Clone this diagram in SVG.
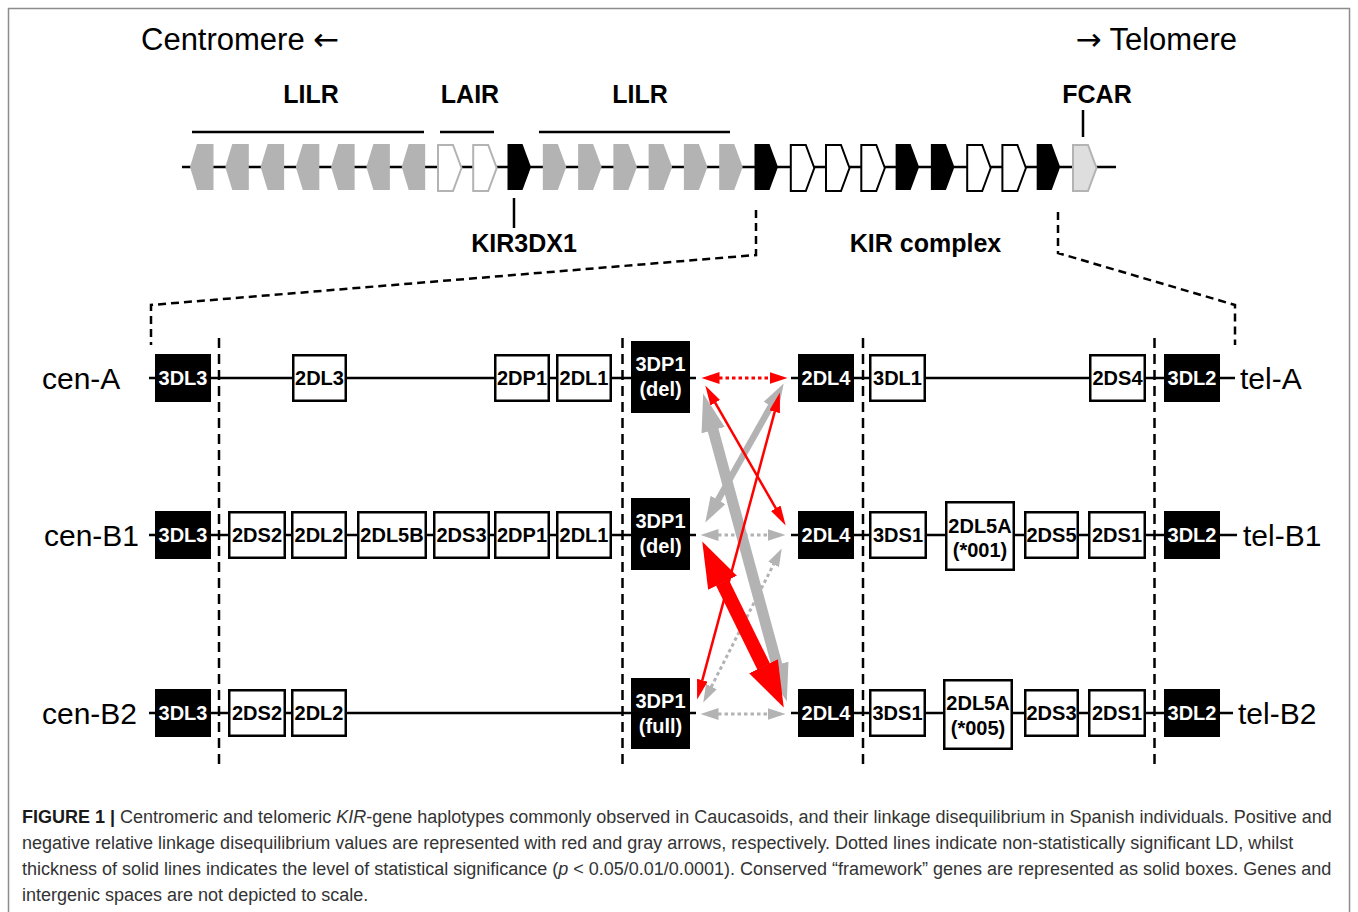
<svg xmlns="http://www.w3.org/2000/svg" xmlns:xlink="http://www.w3.org/1999/xlink" width="1358" height="912" viewBox="0 0 1358 912">
<style>
.gk{fill:#000}
.gg{fill:#b3b3b3}
.gw{fill:#fff;stroke:#000;stroke-width:2}
.gwl{fill:#fff;stroke:#b3b3b3;stroke-width:2}
.gf{fill:#dedede;stroke:#b3b3b3;stroke-width:2}
.ln{stroke:#000;stroke-width:2.5;fill:none}
.dash{stroke:#000;stroke-width:2.5;stroke-dasharray:8 5;fill:none}
.sep{stroke:#000;stroke-width:2.5;stroke-dasharray:10 6;fill:none}
.bw{fill:#fff;stroke:#000;stroke-width:2.5}
.bk{fill:#000}
.tb{font-family:"Liberation Sans",Arial,sans-serif;font-weight:bold;font-size:20px;text-anchor:middle;fill:#000}
.tw{fill:#fff}
.lab{font-family:"Liberation Sans",Arial,sans-serif;font-size:30px;fill:#000}
.ttl{font-family:"Liberation Sans",Arial,sans-serif;font-size:31px;fill:#000}
.arw{font-family:"DejaVu Sans",sans-serif}
.top{font-family:"Liberation Sans",Arial,sans-serif;font-size:25px;font-weight:bold;text-anchor:middle;fill:#000}
.cap{font-family:"Liberation Sans",Arial,sans-serif;font-size:18px;fill:#333}
.red{stroke:#ff0000;fill:none}
.gry{stroke:#b3b3b3;fill:none}
.dot{stroke-width:3;stroke-dasharray:3.5 3}
</style>
<defs>
<polygon id="gL" points="0,23 7,0 23.5,0 23.5,46 7,46"/>
<polygon id="gR" points="0,0 15,0 23.5,23 15,46 0,46"/>
<marker id="mGT" markerUnits="userSpaceOnUse" markerWidth="39" markerHeight="24" refX="0.5" refY="12" orient="auto-start-reverse"><path d="M0,0 L38,12 L0,24 z" fill="#b3b3b3"/></marker>
<marker id="mGM" markerUnits="userSpaceOnUse" markerWidth="27" markerHeight="17" refX="0.5" refY="8.5" orient="auto-start-reverse"><path d="M0,0 L26,8.5 L0,17 z" fill="#b3b3b3"/></marker>
<marker id="mGD" markerUnits="userSpaceOnUse" markerWidth="19" markerHeight="12" refX="0.5" refY="6" orient="auto-start-reverse"><path d="M0,0 L18,6 L0,12 z" fill="#b3b3b3"/></marker>
<marker id="mRT" markerUnits="userSpaceOnUse" markerWidth="21" markerHeight="11" refX="0.5" refY="5.5" orient="auto-start-reverse"><path d="M0,0 L20,5.5 L0,11 z" fill="#ff0000"/></marker>
<marker id="mRK" markerUnits="userSpaceOnUse" markerWidth="47" markerHeight="32" refX="0.5" refY="16" orient="auto-start-reverse"><path d="M0,0 L46,16 L0,32 z" fill="#ff0000"/></marker>
<marker id="mRD" markerUnits="userSpaceOnUse" markerWidth="19" markerHeight="12" refX="0.5" refY="6" orient="auto-start-reverse"><path d="M0,0 L18,6 L0,12 z" fill="#ff0000"/></marker>
</defs>

<rect x="8.5" y="8.5" width="1341" height="1000" fill="#fff" stroke="#8c8c8c" stroke-width="1.5"/>

<g id="titles">
<text class="ttl" x="141" y="50">Centromere <tspan class="arw">←</tspan></text>
<text class="ttl" x="1237" y="50" text-anchor="end"><tspan class="arw">→</tspan> Telomere</text>
</g>

<g id="gene-track">
<line class="ln" x1="182" y1="167" x2="1116" y2="167" stroke-width="3"/>
<line class="ln" x1="192" y1="132" x2="424" y2="132"/>
<line class="ln" x1="440" y1="132" x2="494" y2="132"/>
<line class="ln" x1="539" y1="132" x2="730" y2="132"/>
<text class="top" x="311" y="103">LILR</text>
<text class="top" x="470" y="103">LAIR</text>
<text class="top" x="640" y="103">LILR</text>
<text class="top" x="1097" y="103">FCAR</text>
<line class="ln" x1="1083" y1="110" x2="1083" y2="137"/>
<line class="ln" x1="514" y1="198" x2="514" y2="228"/>
<text class="top" x="524" y="252">KIR3DX1</text>
<text class="top" x="925.5" y="252">KIR complex</text>
<use xlink:href="#gL" x="190" y="144" class="gg"/>
<use xlink:href="#gL" x="225.3" y="144" class="gg"/>
<use xlink:href="#gL" x="260.6" y="144" class="gg"/>
<use xlink:href="#gL" x="295.8" y="144" class="gg"/>
<use xlink:href="#gL" x="331.1" y="144" class="gg"/>
<use xlink:href="#gL" x="366.4" y="144" class="gg"/>
<use xlink:href="#gL" x="401.7" y="144" class="gg"/>
<use xlink:href="#gR" x="438" y="145" class="gwl"/>
<use xlink:href="#gR" x="473.2" y="145" class="gwl"/>
<use xlink:href="#gR" x="507.5" y="144" class="gk"/>
<use xlink:href="#gR" x="542.8" y="144" class="gg"/>
<use xlink:href="#gR" x="578.1" y="144" class="gg"/>
<use xlink:href="#gR" x="613.4" y="144" class="gg"/>
<use xlink:href="#gR" x="648.6" y="144" class="gg"/>
<use xlink:href="#gR" x="683.9" y="144" class="gg"/>
<use xlink:href="#gR" x="719.2" y="144" class="gg"/>
<use xlink:href="#gR" x="754.5" y="144" class="gk"/>
<use xlink:href="#gR" x="790.8" y="145" class="gw"/>
<use xlink:href="#gR" x="826" y="145" class="gw"/>
<use xlink:href="#gR" x="861.3" y="145" class="gw"/>
<use xlink:href="#gR" x="895.6" y="144" class="gk"/>
<use xlink:href="#gR" x="930.9" y="144" class="gk"/>
<use xlink:href="#gR" x="967.2" y="145" class="gw"/>
<use xlink:href="#gR" x="1002.4" y="145" class="gw"/>
<use xlink:href="#gR" x="1036.7" y="144" class="gk"/>
<use xlink:href="#gR" x="1073" y="145" class="gf"/>
</g>

<g id="zoom-guides">
<path class="dash" d="M756,210 V255 L151,305 V345"/>
<path class="dash" d="M1058,212 V253 L1235,305 V345"/>
<line class="sep" x1="219" y1="338" x2="219" y2="768"/>
<line class="sep" x1="622.5" y1="338" x2="622.5" y2="768"/>
<line class="sep" x1="863" y1="338" x2="863" y2="768"/>
<line class="sep" x1="1154.5" y1="338" x2="1154.5" y2="768"/>
</g>

<g id="row-lines">
<line class="ln" x1="149" y1="378" x2="696" y2="378"/>
<line class="ln" x1="791" y1="378" x2="1235" y2="378"/>
<line class="ln" x1="149" y1="535" x2="696" y2="535"/>
<line class="ln" x1="791" y1="535" x2="1237" y2="535"/>
<line class="ln" x1="149" y1="713" x2="696" y2="713"/>
<line class="ln" x1="791" y1="713" x2="1233" y2="713"/>
</g>

<g id="row-labels">
<text class="lab" x="42" y="389">cen-A</text>
<text class="lab" x="44" y="546">cen-B1</text>
<text class="lab" x="42" y="724">cen-B2</text>
<text class="lab" x="1240" y="389">tel-A</text>
<text class="lab" x="1243" y="546">tel-B1</text>
<text class="lab" x="1238" y="724">tel-B2</text>
</g>

<g id="row-A">
<g id="A-3DL3"><rect class="bk" x="155" y="354" width="56" height="48"/><text class="tb tw" x="183" y="385">3DL3</text></g>
<g id="A-2DL3"><rect class="bw" x="293.25" y="355.25" width="52.5" height="45.5"/><text class="tb" x="319.5" y="385">2DL3</text></g>
<g id="A-2DP1"><rect class="bw" x="495.25" y="355.25" width="53.5" height="45.5"/><text class="tb" x="522" y="385">2DP1</text></g>
<g id="A-2DL1"><rect class="bw" x="557.25" y="355.25" width="53.5" height="45.5"/><text class="tb" x="584" y="385">2DL1</text></g>
<g id="A-3DP1"><rect class="bk" x="631" y="341" width="59" height="72"/><text class="tb tw" x="660.5" y="371">3DP1</text><text class="tb tw" x="660.5" y="396">(del)</text></g>
<g id="A-2DL4"><rect class="bk" x="798" y="354" width="56" height="48"/><text class="tb tw" x="826" y="385">2DL4</text></g>
<g id="A-3DL1"><rect class="bw" x="870.25" y="355.25" width="54.5" height="45.5"/><text class="tb" x="897.5" y="385">3DL1</text></g>
<g id="A-2DS4"><rect class="bw" x="1090.25" y="355.25" width="54.5" height="45.5"/><text class="tb" x="1117.5" y="385">2DS4</text></g>
<g id="A-3DL2"><rect class="bk" x="1164" y="354" width="56" height="48"/><text class="tb tw" x="1192" y="385">3DL2</text></g>
</g>

<g id="row-B1">
<g id="B1-3DL3"><rect class="bk" x="155" y="511" width="56" height="48"/><text class="tb tw" x="183" y="542">3DL3</text></g>
<g id="B1-2DS2"><rect class="bw" x="229.25" y="512.25" width="55.5" height="45.5"/><text class="tb" x="257" y="542">2DS2</text></g>
<g id="B1-2DL2"><rect class="bw" x="292.25" y="512.25" width="53.5" height="45.5"/><text class="tb" x="319" y="542">2DL2</text></g>
<g id="B1-2DL5B"><rect class="bw" x="358.25" y="512.25" width="67.5" height="45.5"/><text class="tb" x="392" y="542">2DL5B</text></g>
<g id="B1-2DS3"><rect class="bw" x="434.25" y="512.25" width="54.5" height="45.5"/><text class="tb" x="461.5" y="542">2DS3</text></g>
<g id="B1-2DP1"><rect class="bw" x="495.25" y="512.25" width="53.5" height="45.5"/><text class="tb" x="522" y="542">2DP1</text></g>
<g id="B1-2DL1"><rect class="bw" x="557.25" y="512.25" width="53.5" height="45.5"/><text class="tb" x="584" y="542">2DL1</text></g>
<g id="B1-3DP1"><rect class="bk" x="631" y="498" width="59" height="72"/><text class="tb tw" x="660.5" y="528">3DP1</text><text class="tb tw" x="660.5" y="553">(del)</text></g>
<g id="B1-2DL4"><rect class="bk" x="798" y="511" width="56" height="48"/><text class="tb tw" x="826" y="542">2DL4</text></g>
<g id="B1-3DS1"><rect class="bw" x="870.25" y="512.25" width="55.5" height="45.5"/><text class="tb" x="898" y="542">3DS1</text></g>
<g id="B1-2DL5A"><rect class="bw" x="946.25" y="502.25" width="67.5" height="67.5"/><text class="tb" x="980" y="533">2DL5A</text><text class="tb" x="980" y="557">(*001)</text></g>
<g id="B1-2DS5"><rect class="bw" x="1025.25" y="512.25" width="52.5" height="45.5"/><text class="tb" x="1051.5" y="542">2DS5</text></g>
<g id="B1-2DS1"><rect class="bw" x="1089.25" y="512.25" width="55.5" height="45.5"/><text class="tb" x="1117" y="542">2DS1</text></g>
<g id="B1-3DL2"><rect class="bk" x="1164" y="511" width="56" height="48"/><text class="tb tw" x="1192" y="542">3DL2</text></g>
</g>

<g id="row-B2">
<g id="B2-3DL3"><rect class="bk" x="155" y="689" width="56" height="48"/><text class="tb tw" x="183" y="720">3DL3</text></g>
<g id="B2-2DS2"><rect class="bw" x="229.25" y="690.25" width="55.5" height="45.5"/><text class="tb" x="257" y="720">2DS2</text></g>
<g id="B2-2DL2"><rect class="bw" x="292.25" y="690.25" width="53.5" height="45.5"/><text class="tb" x="319" y="720">2DL2</text></g>
<g id="B2-3DP1"><rect class="bk" x="631" y="678" width="59" height="71"/><text class="tb tw" x="660.5" y="708">3DP1</text><text class="tb tw" x="660.5" y="733">(full)</text></g>
<g id="B2-2DL4"><rect class="bk" x="798" y="689" width="56" height="48"/><text class="tb tw" x="826" y="720">2DL4</text></g>
<g id="B2-3DS1"><rect class="bw" x="870.25" y="690.25" width="54.5" height="45.5"/><text class="tb" x="897.5" y="720">3DS1</text></g>
<g id="B2-2DL5A"><rect class="bw" x="944.25" y="680.25" width="67.5" height="68.5"/><text class="tb" x="978" y="710">2DL5A</text><text class="tb" x="978" y="735">(*005)</text></g>
<g id="B2-2DS3"><rect class="bw" x="1025.25" y="690.25" width="52.5" height="45.5"/><text class="tb" x="1051.5" y="720">2DS3</text></g>
<g id="B2-2DS1"><rect class="bw" x="1089.25" y="690.25" width="55.5" height="45.5"/><text class="tb" x="1117" y="720">2DS1</text></g>
<g id="B2-3DL2"><rect class="bk" x="1164" y="689" width="56" height="48"/><text class="tb tw" x="1192" y="720">3DL2</text></g>
</g>

<g id="connectors">
<line class="gry dot" x1="718" y1="535" x2="768" y2="535" marker-start="url(#mGD)" marker-end="url(#mGD)"/>
<line class="gry dot" x1="718" y1="714" x2="768" y2="714" marker-start="url(#mGD)" marker-end="url(#mGD)"/>
<line class="gry dot" x1="711.2" y1="687" x2="773.8" y2="564" marker-start="url(#mGD)" marker-end="url(#mGD)"/>
<line class="gry" stroke-width="11" x1="713" y1="429.7" x2="777" y2="665.3" marker-start="url(#mGT)" marker-end="url(#mGT)"/>
<line class="gry" stroke-width="6.5" x1="717.8" y1="500.4" x2="771.2" y2="405.6" marker-start="url(#mGM)" marker-end="url(#mGM)"/>
<line class="red" stroke-width="2.5" x1="715" y1="402.3" x2="776" y2="508.7" marker-start="url(#mRT)" marker-end="url(#mRT)"/>
<line class="red" stroke-width="2.5" x1="702.2" y1="680.7" x2="774.8" y2="411.3" marker-start="url(#mRT)" marker-end="url(#mRT)"/>
<line class="red" stroke-width="14" x1="722.3" y1="582.3" x2="763.7" y2="666.7" marker-start="url(#mRK)" marker-end="url(#mRK)"/>
<line class="red dot" x1="719" y1="378" x2="770" y2="378" marker-start="url(#mRD)" marker-end="url(#mRD)"/>
</g>

<g id="caption">
<text class="cap" x="22" y="823"><tspan font-weight="bold" fill="#1a1a1a">FIGURE 1 |</tspan> Centromeric and telomeric <tspan font-style="italic">KIR</tspan>-gene haplotypes commonly observed in Caucasoids, and their linkage disequilibrium in Spanish individuals. Positive and</text>
<text class="cap" x="22" y="849">negative relative linkage disequilibrium values are represented with red and gray arrows, respectively. Dotted lines indicate non-statistically significant LD, whilst</text>
<text class="cap" x="22" y="875">thickness of solid lines indicates the level of statistical significance (<tspan font-style="italic">p</tspan> &lt; 0.05/0.01/0.0001). Conserved “framework” genes are represented as solid boxes. Genes and</text>
<text class="cap" x="22" y="901">intergenic spaces are not depicted to scale.</text>
</g>
</svg>
